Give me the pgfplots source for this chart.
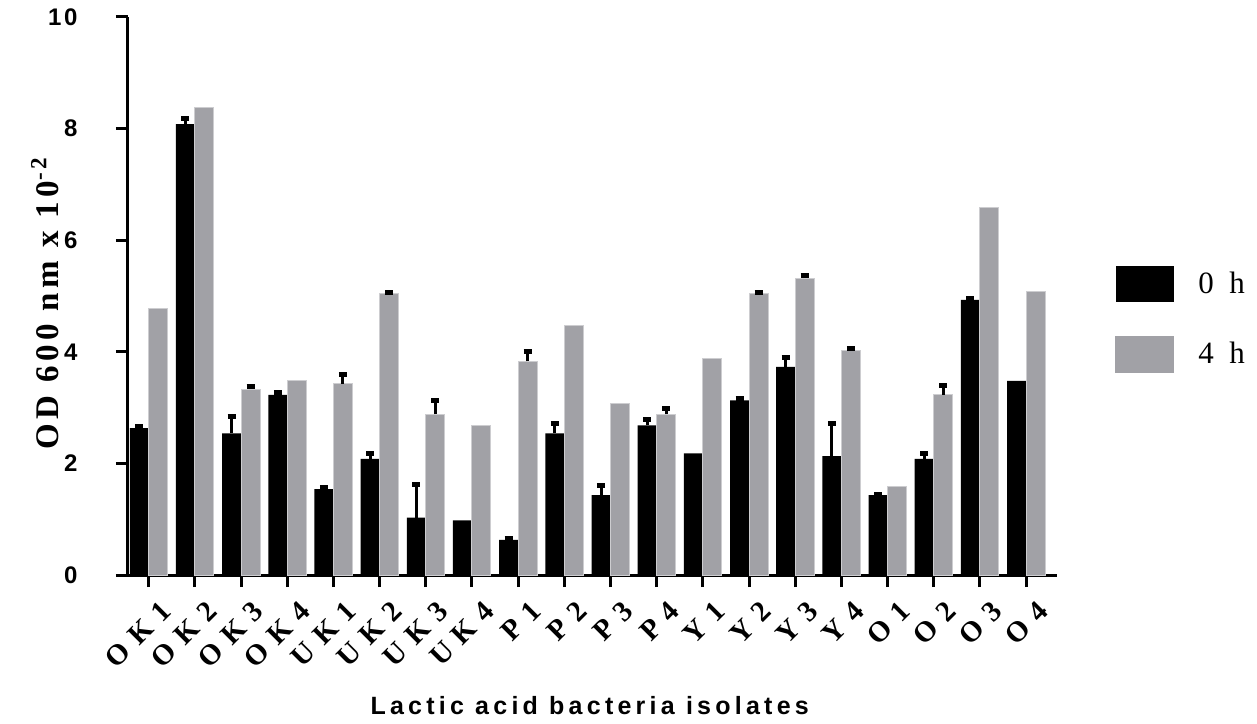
\documentclass[border=0pt]{standalone}
\usepackage{pgfplots}
\pgfplotsset{compat=1.18}
\usepackage{pgfplotstable}
\usepackage{fontspec}
\setmainfont{Liberation Serif}
\newfontfamily\tickyfont[LetterSpace=12]{Liberation Sans}
\newfontfamily\ylabfont[LetterSpace=14]{Liberation Serif}
\newfontfamily\xtickfont[LetterSpace=34]{Liberation Serif}
\newfontfamily\xlabfont[LetterSpace=17]{Liberation Sans}
\newfontfamily\legfont[LetterSpace=25]{Liberation Serif}
\definecolor{barg}{RGB}{161,161,166}
\definecolor{barge}{RGB}{205,205,208}

\pgfplotstableread{
x b g
0 2.63 4.78
1 8.08 8.38
2 2.54 3.33
3 3.23 3.48
4 1.54 3.43
5 2.08 5.04
6 1.03 2.88
7 0.98 2.68
8 0.63 3.83
9 2.54 4.48
10 1.43 3.08
11 2.68 2.88
12 2.18 3.88
13 3.13 5.04
14 3.73 5.32
15 2.13 4.03
16 1.43 1.58
17 2.08 3.23
18 4.93 6.58
19 3.48 5.08
}\bars

% error bars of the 0 h bars (x shifted to bar centre)
\pgfplotstableread{
x y e
-0.206 2.63 0.03
0.794 8.08 0.10
1.794 2.54 0.30
2.794 3.23 0.04
3.794 1.54 0.03
4.794 2.08 0.10
5.794 1.03 0.59
7.794 0.63 0.02
8.794 2.54 0.17
9.794 1.43 0.17
10.794 2.68 0.10
12.794 3.13 0.03
13.794 3.73 0.16
14.794 2.13 0.59
15.794 1.43 0.02
16.794 2.08 0.09
17.794 4.93 0.02
}\errb

% error bars of the 4 h bars
\pgfplotstableread{
x y e
2.206 3.33 0.04
4.206 3.43 0.17
5.206 5.04 0.03
6.206 2.88 0.24
8.206 3.83 0.17
11.206 2.88 0.10
13.206 5.04 0.03
14.206 5.32 0.04
15.206 4.03 0.03
17.206 3.23 0.16
}\errg

\begin{document}
\begin{tikzpicture}
\useasboundingbox (-64pt,-74pt) rectangle (564.5pt,287.5pt);
\begin{axis}[
  at={(0,0)}, anchor=south west,
  scale only axis,
  width=464.5pt, height=279pt,
  xmin=-0.45, xmax=19.67,
  ymin=0, ymax=10,
  axis x line*=bottom, axis y line*=left,
  axis line style={line width=1.5pt, -},
  major tick length=6pt,
  tick style={line width=1.5pt, black},
  tick align=outside,
  xtick={0,...,19},
  xticklabels={OK1,OK2,OK3,OK4,UK1,UK2,UK3,UK4,P1,P2,P3,P4,Y1,Y2,Y3,Y4,O1,O2,O3,O4},
  xticklabel style={rotate=45, anchor=east, inner sep=0pt, xshift=-0.5pt, yshift=-13pt,
    font=\xtickfont\bfseries\fontsize{14.5}{16}\selectfont},
  ytick={0,2,4,6,8,10},
  yticklabels={0,2,4,6,8,10},
  yticklabel style={font=\tickyfont\bfseries\fontsize{12}{14}\selectfont, inner sep=0pt, xshift=-19pt},
  ylabel={\ylabfont\bfseries\fontsize{16.5}{18}\selectfont OD 600 nm x 10\textsuperscript{-2}},
  every axis y label/.style={at={(axis description cs:-0.0893,0.4866)}, rotate=90, anchor=center},
  xlabel={\xlabfont\bfseries\fontsize{12.5}{14}\selectfont Lactic acid bacteria isolates},
  every axis x label/.style={at={(axis description cs:0.497,-0.2348)}, anchor=center},
  legend style={at={(axis description cs:1.0624,0.5545)}, anchor=north west,
    draw=none, fill=none, inner sep=0pt, row sep=17pt,
    nodes={inner sep=0pt},
    font=\legfont\fontsize{15.5}{17}\selectfont},
  legend cell align=left,
  clip=false,
]
\addplot[ybar, bar width=9.5pt, bar shift=-4.75pt, fill=black, draw=none,
  legend image code/.code={\fill[black] (0pt,-9pt) rectangle (29pt,9pt); \path (41pt,0pt);}]
  table[x=x, y=b] {\bars};
\addlegendentry{0 h}
\addplot[ybar, bar width=9.5pt, bar shift=4.75pt, fill=barg, draw=barge, line width=0.5pt,
  legend image code/.code={\fill[barg] (0pt,-9pt) rectangle (29pt,9pt); \path (41pt,0pt);}]
  table[x=x, y=g] {\bars};
\addlegendentry{4 h}
\addplot[draw=none, mark=none, forget plot,
  error bars/.cd, y dir=plus, y explicit,
  error bar style={line width=1.5pt, black},
  error mark=|, error mark options={line width=2.5pt, mark size=2pt, black}]
  table[x=x, y=y, y error=e] {\errb};
\addplot[draw=none, mark=none, forget plot,
  error bars/.cd, y dir=plus, y explicit,
  error bar style={line width=1.5pt, black},
  error mark=|, error mark options={line width=2.5pt, mark size=2pt, black}]
  table[x=x, y=y, y error=e] {\errg};
\end{axis}
\end{tikzpicture}
\end{document}
